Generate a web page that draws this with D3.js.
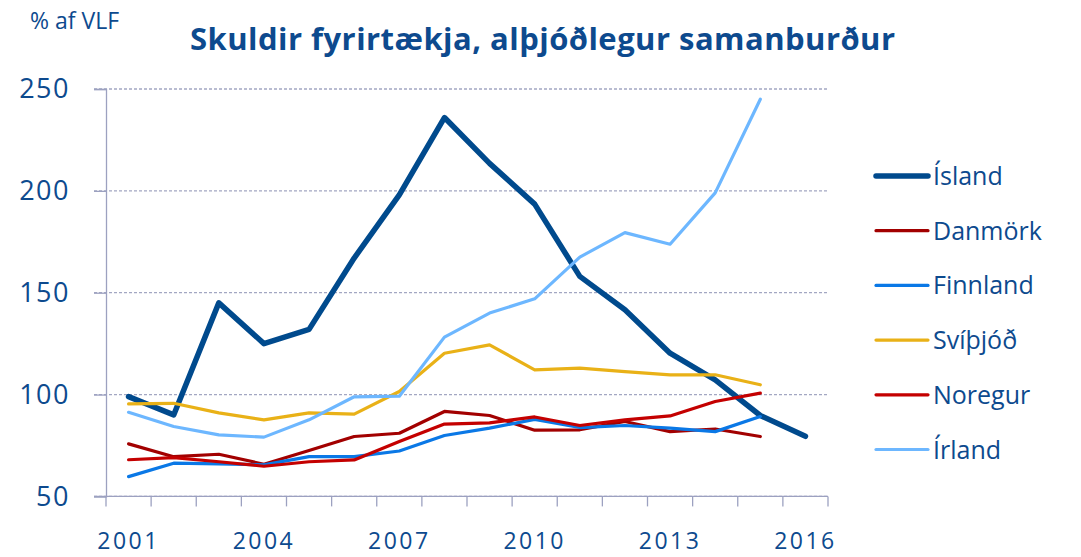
<!DOCTYPE html>
<html>
<head>
<meta charset="utf-8">
<script src="https://cdn.jsdelivr.net/npm/d3@7"></script>
<style>
	body { margin: 0; background: #fff; }
	svg { display: block; }
	text { font-family: 'Open Sans', 'Lato', sans-serif; fill: #0d4a8e; }
</style>
</head>
<body>
<svg width="1081" height="557"></svg>
<script>
const years = d3.range(2001, 2017)
const yearLabels = [2001, 2004, 2007, 2010, 2013, 2016]
const yTicks = [50, 100, 150, 200, 250]

const island   = [99, 90, 145, 125, 132, 167, 198, 236, 213.5, 193.5, 158, 141.6, 120.3, 107.2, 89.7, 79.5]
const danmork  = [75.8, 69.5, 70.7, 65.8, 72.5, 79.4, 81, 91.7, 89.7, 82.5, 82.7, 86.8, 81.8, 83.1, 79.4, null]
const finnland = [59.7, 66.3, 66, 65.5, 69.5, 69.5, 72.3, 79.9, 83.5, 87.8, 83.8, 84.8, 83.5, 81.8, 89.2, null]
const svithjod = [95.4, 95.7, 91, 87.6, 91, 90.4, 101.5, 120.3, 124.4, 112.1, 113, 111.3, 109.7, 109.7, 104.8, null]
const noregur  = [68, 69, 67, 64.8, 67, 67.9, 76.9, 85.5, 86.1, 89, 84.8, 87.6, 89.5, 96.6, 100.7, null]
const irland   = [91.3, 84.3, 80.2, 79.1, 87.6, 98.9, 99.2, 128.2, 140, 147, 167.5, 179.5, 173.8, 199, 245, null]

const series = [
	{ name: 'Ísland', values: island, color: '#004a8d', width: 5.5 },
	{ name: 'Danmörk', values: danmork, color: '#a20000', width: 3.2 },
	{ name: 'Finnland', values: finnland, color: '#0a78e6', width: 3.2 },
	{ name: 'Svíþjóð', values: svithjod, color: '#e9b117', width: 3.2 },
	{ name: 'Noregur', values: noregur, color: '#c40000', width: 3.2 },
	{ name: 'Írland', values: irland, color: '#6db7ff', width: 3.2 }
]

const svg = d3.select('svg')
const plotLeft = 106, plotRight = 828, plotTop = 89, plotBottom = 496.4

let xScale = d3.scalePoint()
	.domain(years)
	.range([plotLeft, plotRight])
	.padding(0.5)

let yScale = d3.scaleLinear()
	.domain([50, 250])
	.range([plotBottom, plotTop])

// gridlines
svg.append('g')
	.selectAll('line')
	.data(yTicks)
	.enter()
	.append('line')
	.attr('x1', plotLeft - 12)
	.attr('x2', plotRight)
	.attr('y1', d => yScale(d))
	.attr('y2', d => yScale(d))
	.attr('stroke', '#a3a7c2')
	.attr('stroke-width', 1.3)
	.attr('stroke-dasharray', '3,2')

// left axis
let leftAxis = d3.axisLeft(yScale)
	.tickValues(yTicks)
	.tickSize(12)
	.tickPadding(24)
let leftAxisG = svg.append('g')
	.attr('transform', `translate(${plotLeft}, 0)`)
	.call(leftAxis)
leftAxisG.select('.domain').attr('stroke', '#9ca1c0').attr('stroke-width', 1.3)
leftAxisG.selectAll('.tick line').attr('stroke', '#9ca1c0').attr('stroke-width', 1.3)
leftAxisG.selectAll('.tick text')
	.attr('font-size', 27)
	.attr('font-family', 'Lato, sans-serif')
	.attr('fill', '#0d4a8e')
	.attr('letter-spacing', 1.5)

// bottom axis: ticks on category boundaries
let boundary = d3.scaleLinear().domain([0, years.length]).range([plotLeft, plotRight])
let bottomAxisG = svg.append('g')
	.attr('transform', `translate(0, ${plotBottom})`)
bottomAxisG.append('line')
	.attr('x1', plotLeft - 12)
	.attr('x2', plotRight)
	.attr('stroke', '#9ca1c0')
	.attr('stroke-width', 1.3)
bottomAxisG.selectAll('line.tk')
	.data(d3.range(years.length + 1))
	.enter()
	.append('line')
	.attr('class', 'tk')
	.attr('x1', d => boundary(d))
	.attr('x2', d => boundary(d))
	.attr('y1', 0)
	.attr('y2', 10)
	.attr('stroke', '#9ca1c0')
	.attr('stroke-width', 1.3)
bottomAxisG.selectAll('text')
	.data(yearLabels)
	.enter()
	.append('text')
	.attr('x', d => xScale(d))
	.attr('y', 53)
	.attr('text-anchor', 'middle')
	.attr('font-family', 'Lato, sans-serif')
	.attr('font-size', 23)
	.attr('letter-spacing', 2.5)
	.text(d => d)

// lines
let line = d3.line()
	.defined(d => d[1] != null)
	.x(d => xScale(d[0]))
	.y(d => yScale(d[1]))

svg.append('g')
	.selectAll('path')
	.data(series)
	.enter()
	.append('path')
	.attr('d', s => line(years.map((y, i) => [y, s.values[i]])))
	.attr('fill', 'none')
	.attr('stroke', s => s.color)
	.attr('stroke-width', s => s.width)
	.attr('stroke-linejoin', 'round')
	.attr('stroke-linecap', 'round')

// legend
let legend = svg.append('g')
	.selectAll('g')
	.data(series)
	.enter()
	.append('g')
	.attr('transform', (d, i) => `translate(876, ${176 + i * 54.7})`)
legend.append('line')
	.attr('x1', 0)
	.attr('x2', 52)
	.attr('stroke', d => d.color)
	.attr('stroke-width', d => d.width)
	.attr('stroke-linecap', 'round')
legend.append('text')
	.attr('x', 57)
	.attr('y', 9)
	.attr('font-size', 25)
	.text(d => d.name)

// titles
svg.append('text')
	.attr('x', 30)
	.attr('y', 29)
	.attr('font-size', 23)
	.text('% af VLF')

svg.append('text')
	.attr('x', 190)
	.attr('y', 50)
	.attr('font-size', 31)
	.attr('font-weight', 'bold')
	.attr('fill', '#004a8d')
	.attr('textLength', 705)
	.attr('lengthAdjust', 'spacing')
	.text('Skuldir fyrirtækja, alþjóðlegur samanburður')
</script>
</body>
</html>
